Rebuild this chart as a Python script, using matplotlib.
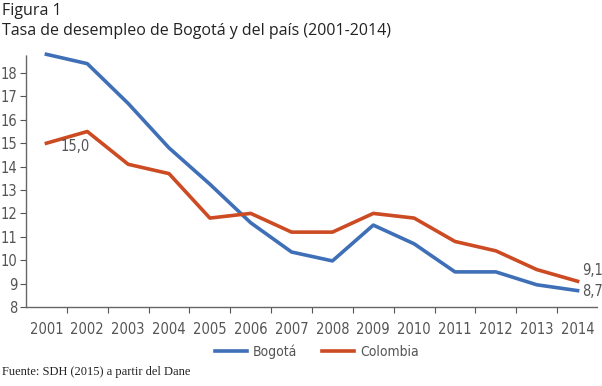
import matplotlib
import matplotlib.pyplot as plt
from matplotlib.lines import Line2D

# ==== datos ====
YEARS = [str(y) for y in range(2001, 2015)]
BOGOTA = [18.8, 18.4, 16.7, 14.8, 13.25, 11.6, 10.35, 9.97, 11.5, 10.7, 9.5, 9.5, 8.95, 8.7]
COLOMBIA = [15.0, 15.5, 14.1, 13.7, 11.8, 12.0, 11.2, 11.2, 12.0, 11.8, 10.8, 10.4, 9.6, 9.1]
Y_TICKS = list(range(8, 19))

BLUE = "#3f6fb6"
RED = "#cc4b22"
GRAY = "#555555"

matplotlib.rcParams["font.family"] = ["DejaVu Sans"]
matplotlib.rcParams["font.stretch"] = "condensed"

fig = plt.figure(figsize=(6.02, 3.86), dpi=100)
ax = fig.add_axes([26 / 602, 1 - 307 / 386, 572 / 602, 252 / 386])

x = list(range(len(YEARS)))
ax.plot(x, BOGOTA, color=BLUE, lw=2.6, solid_joinstyle="round", clip_on=False)
ax.plot(x, COLOMBIA, color=RED, lw=2.6, solid_joinstyle="round", clip_on=False)

ax.set_xlim(-0.5, len(YEARS) - 0.5)
ax.set_ylim(8, 18.77)

# ejes
for s in ["top", "right"]:
    ax.spines[s].set_visible(False)
for s in ["left", "bottom"]:
    ax.spines[s].set_color("#666666")
    ax.spines[s].set_linestyle((0, (1, 1)))
    ax.spines[s].set_linewidth(1.0)

ax.set_yticks(Y_TICKS)
ax.set_yticklabels([str(v) for v in Y_TICKS])
ax.set_xticks([i + 0.5 for i in x[:-1]])
ax.set_xticklabels([])
ax.set_xticks(x, minor=True)
ax.set_xticklabels(YEARS, minor=True)
ax.tick_params(axis="x", which="major", length=4, color="#555555", direction="out")
ax.tick_params(axis="x", which="minor", length=0, pad=11, labelsize=10.5, labelcolor=GRAY)
ax.tick_params(axis="y", length=4, color="#555555", pad=2, labelsize=10.5, labelcolor=GRAY)

# etiquetas de datos
ax.text(x[0] + 0.35, COLOMBIA[0] - 0.15, "15,0", color=GRAY, fontsize=10.5, ha="left", va="center")
ax.text(x[-1] + 0.12, COLOMBIA[-1] + 0.45, "9,1", color=GRAY, fontsize=10.5, ha="left", va="center")
ax.text(x[-1] + 0.12, BOGOTA[-1] - 0.02, "8,7", color=GRAY, fontsize=10.5, ha="left", va="center")

# leyenda
handles = [Line2D([], [], color=BLUE, lw=2.6), Line2D([], [], color=RED, lw=2.6)]
fig.legend(handles, ["Bogotá", "Colombia"], loc="center", bbox_to_anchor=(317 / 602, 1 - 352 / 386),
           ncol=2, frameon=False, fontsize=10, labelcolor=GRAY, handlelength=2.3,
           handletextpad=0.4, columnspacing=1.8)

# títulos
fig.text(2 / 602, 1 - 11 / 386, "Figura 1", fontsize=11.5, family="Open Sans", stretch="normal",
         color="#222222", ha="left", va="center")
fig.text(2 / 602, 1 - 31 / 386, "Tasa de desempleo de Bogotá y del país (2001-2014)", fontsize=11.5,
         family="Open Sans", stretch="normal", color="#222222", ha="left", va="center")
fig.text(2 / 602, 1 - 372 / 386, "Fuente: SDH (2015) a partir del Dane", fontsize=9,
         family="Liberation Serif", stretch="normal", color="#222222", ha="left", va="center")

fig.savefig("out.png", dpi=100)
